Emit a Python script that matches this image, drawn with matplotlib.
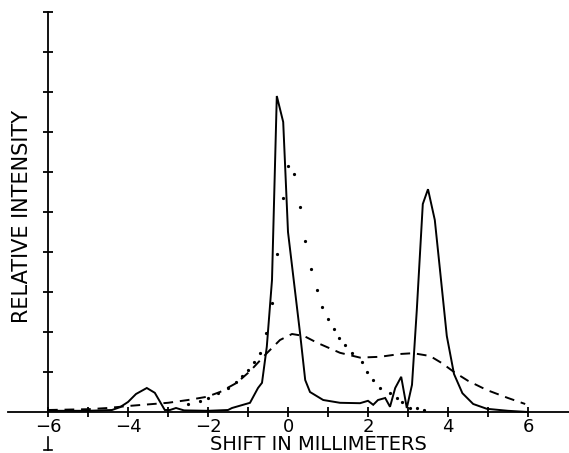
import matplotlib
matplotlib.use("Agg")
import matplotlib.pyplot as plt
import numpy as np

# solid curve
solid_x = [-6.0, -5.0, -4.4, -4.2, -4.0, -3.8, -3.53, -3.33, -3.08, -2.95, -2.8, -2.6, -2.0, -1.5,
           -1.4, -0.95, -0.75, -0.65, -0.53, -0.4, -0.28, -0.12, 0.0, 0.3, 0.43, 0.55, 0.88, 1.3,
           1.8, 2.0, 2.13, 2.25, 2.43, 2.55, 2.68, 2.83, 2.97, 3.1, 3.22, 3.37, 3.5, 3.67, 3.8,
           3.97, 4.15, 4.36, 4.63, 4.97, 5.5, 6.0]
solid_y = [0.03, 0.03, 0.05, 0.12, 0.25, 0.45, 0.6, 0.48, 0.05, 0.05, 0.1, 0.04, 0.03, 0.05,
           0.1, 0.23, 0.6, 0.73, 1.63, 3.3, 7.9, 7.25, 4.5, 1.98, 0.8, 0.5, 0.3, 0.23,
           0.22, 0.28, 0.18, 0.3, 0.35, 0.13, 0.6, 0.88, 0.1, 0.68, 2.55, 5.2, 5.57, 4.8, 3.55,
           1.9, 0.95, 0.47, 0.2, 0.08, 0.03, 0.0]

# dashed curve
dash_x = [-6.0, -5.0, -4.5, -4.0, -3.0, -2.5, -2.03, -1.7, -1.28, -0.95, -0.53, -0.2, 0.1, 0.4,
          0.73, 1.3, 1.8, 2.3, 2.8, 3.13, 3.55, 3.85, 4.15, 4.5, 4.97, 5.5, 5.93]
dash_y = [0.05, 0.07, 0.1, 0.15, 0.23, 0.3, 0.38, 0.5, 0.73, 1.02, 1.47, 1.8, 1.95, 1.9,
          1.73, 1.48, 1.36, 1.38, 1.45, 1.47, 1.4, 1.22, 1.0, 0.78, 0.55, 0.35, 0.2]

# dotted curve (discrete points)
dot_x = [-2.5, -2.2, -2.0, -1.75, -1.5, -1.3, -1.15, -1.0, -0.85, -0.7, -0.55, -0.4, -0.27,
         -0.12, 0.0, 0.15, 0.3, 0.43, 0.57, 0.72, 0.85, 1.0, 1.15, 1.28, 1.43, 1.6, 1.85,
         1.97, 2.13, 2.3, 2.55, 2.72, 2.85, 3.05, 3.22, 3.4]
dot_y = [0.2, 0.28, 0.35, 0.47, 0.6, 0.75, 0.9, 1.05, 1.25, 1.47, 1.97, 2.73, 3.95,
         5.35, 6.15, 5.95, 5.13, 4.27, 3.58, 3.05, 2.63, 2.32, 2.07, 1.85, 1.68, 1.48, 1.25,
         1.0, 0.8, 0.6, 0.47, 0.35, 0.25, 0.1, 0.1, 0.05]

x_major = [-6, -4, -2, 0, 2, 4, 6]
x_minor = [-5, -3, -1, 1, 3, 5]
y_ticks = [1, 2, 3, 4, 5, 6, 7, 8, 9, 10]

W, H = 569, 453
fig = plt.figure(figsize=(W / 100, H / 100), dpi=100)
xlo, xhi = -7.0, 7.03
ylo, yhi = -0.1, 10.2
# px mapping: x_px = 288 + 40 x ; y_px = 412 - 40 y
left = (288 + 40 * xlo) / W
right = (288 + 40 * xhi) / W
bottom = (H - (412 - 40 * ylo)) / H
top = (H - (412 - 40 * yhi)) / H
ax = fig.add_axes([left, bottom, right - left, top - bottom])
ax.set_xlim(xlo, xhi)
ax.set_ylim(ylo, yhi)

ax.plot(solid_x, solid_y, color="black", lw=1.4, solid_joinstyle="miter")
ax.plot(dash_x, dash_y, color="black", lw=1.4, linestyle=(0, (5, 3.5)))
ax.plot(dot_x, dot_y, linestyle="none", marker="o", markersize=1.3, color="black")

for s in ["top", "right"]:
    ax.spines[s].set_visible(False)
ax.spines["left"].set_position(("data", -6))
ax.spines["left"].set_bounds(0, 10)
ax.spines["bottom"].set_position(("data", 0))
ax.spines["left"].set_linewidth(1.3)
ax.spines["bottom"].set_linewidth(1.3)

ax.set_xticks(x_major)
ax.set_xticks(x_minor, minor=True)
ax.set_xticklabels([str(v).replace("-", "\u2212") for v in x_major])
ax.set_yticks(y_ticks)
ax.set_yticklabels([])
ax.tick_params(axis="x", which="both", direction="inout", length=7, width=1.3, labelsize=13, pad=1)
ax.tick_params(axis="y", which="both", direction="inout", length=7, width=1.3)

# axis titles
ax.text(0.75, -0.8, "SHIFT IN MILLIMETERS", fontsize=14, ha="center", va="center", clip_on=False)
ax.text(-6.65, 4.9, "RELATIVE INTENSITY", fontsize=15, rotation=90, ha="center", va="center",
        clip_on=False)

# small marker below the y axis
ax.plot([-6, -6], [-0.62, -0.96], color="black", lw=1.2, clip_on=False)
ax.plot([-6.09, -5.91], [-0.96, -0.96], color="black", lw=1.2, clip_on=False)

fig.savefig("out.png", dpi=100)
